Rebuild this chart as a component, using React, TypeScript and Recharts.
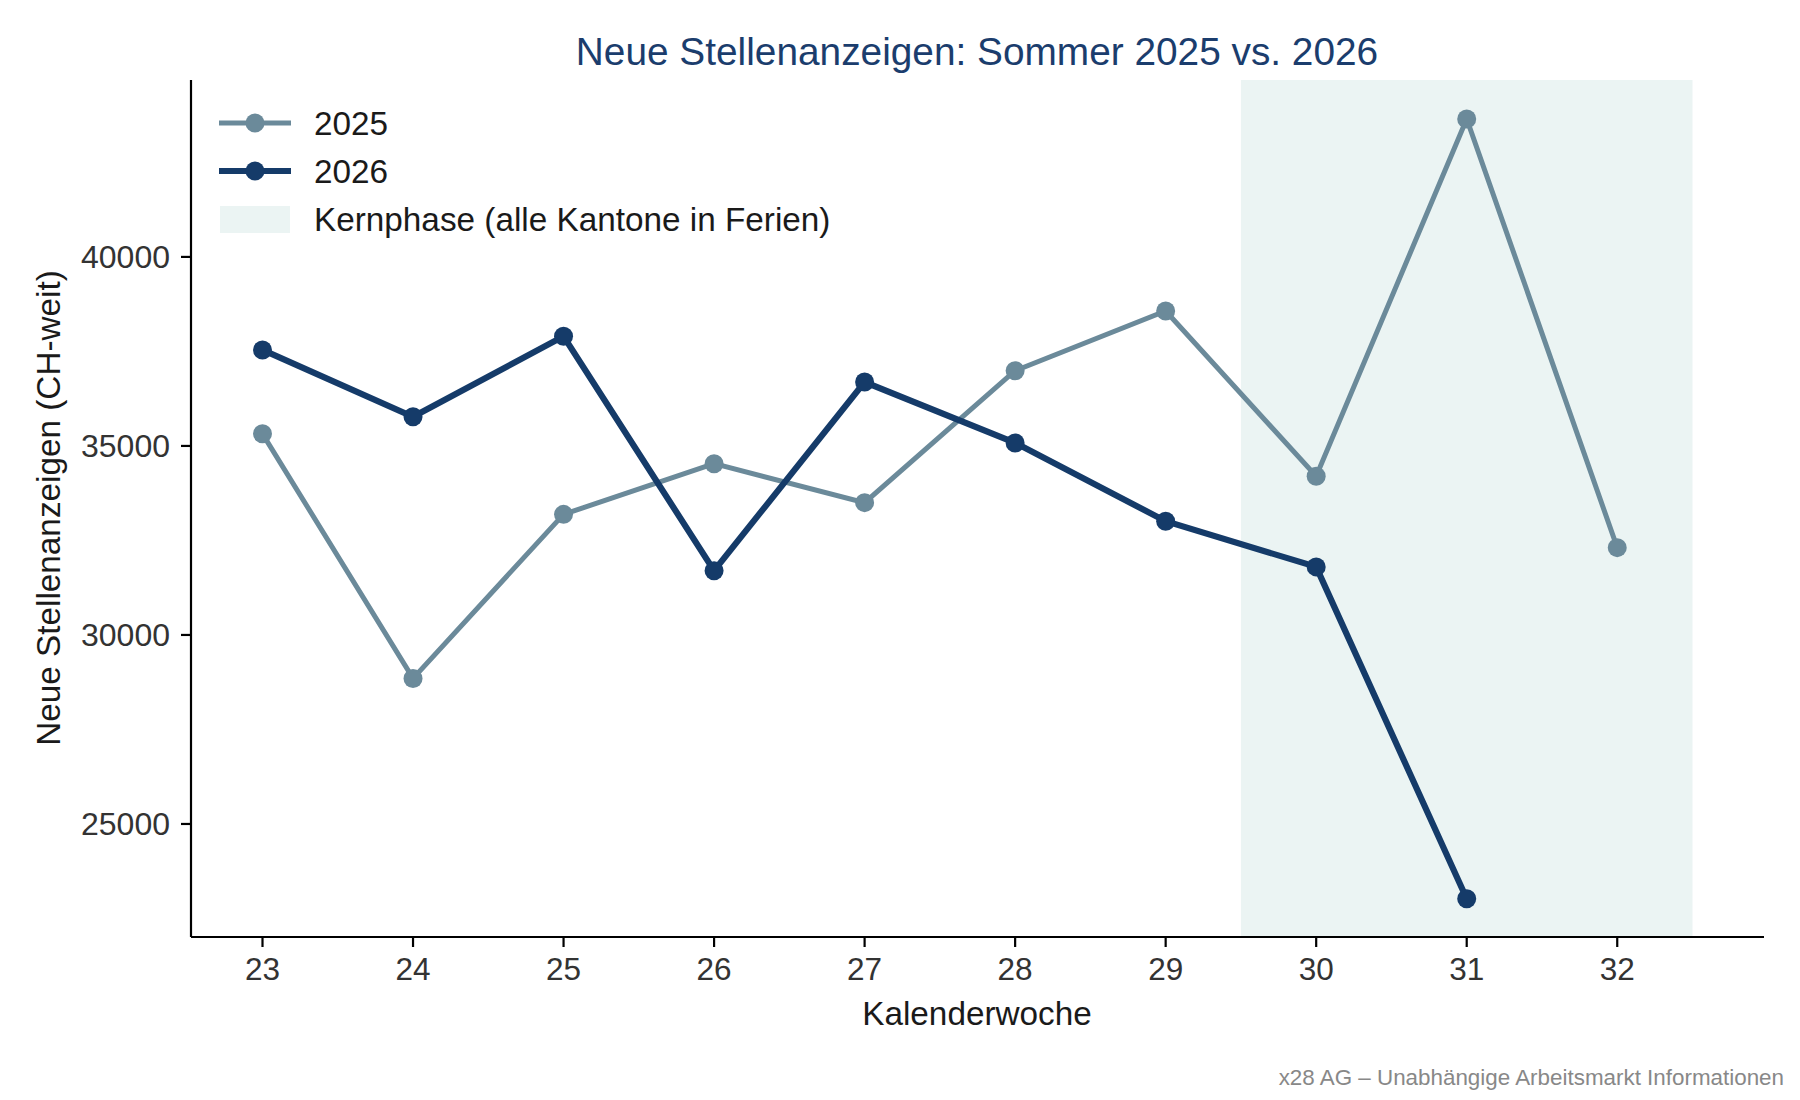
import React from 'react';
import { LineChart, Line, XAxis, YAxis, ReferenceArea } from 'recharts';

const weeks = [23, 24, 25, 26, 27, 28, 29, 30, 31, 32];
const jobs2025 = [35320, 28850, 33190, 34530, 33500, 36990, 38570, 34200, 43650, 32310];
const jobs2026 = [37540, 35770, 37900, 31700, 36690, 35080, 33010, 31800, 23020, null];
const yTicks = [25000, 30000, 35000, 40000];
const kernphase = [29.5, 32.5];

const COLOR_2025 = '#6b8a9a';
const COLOR_2026 = '#153b69';
const COLOR_SHADE = '#ebf4f3';
const FONT = '"Liberation Sans", Arial, Helvetica, sans-serif';

const data = weeks.map((week, i) => ({
  week,
  y2025: jobs2025[i],
  y2026: jobs2026[i],
}));

export default function App() {
  return (
    <div
      style={{
        position: 'absolute',
        left: 0,
        top: 0,
        width: 1800,
        height: 1100,
        background: '#fff',
        fontFamily: FONT,
      }}
    >
      <LineChart
        width={1800}
        height={1100}
        data={data}
        margin={{ top: 80, right: 36, bottom: 63, left: 41 }}
      >
        <ReferenceArea
          x1={kernphase[0]}
          x2={kernphase[1]}
          fill={COLOR_SHADE}
          fillOpacity={1}
          stroke="none"
        />
        <XAxis
          dataKey="week"
          type="number"
          domain={[22.525, 32.975]}
          ticks={weeks}
          allowDataOverflow
          height={100}
          axisLine={{ stroke: '#000', strokeWidth: 2.2 }}
          tickLine={{ stroke: '#000', strokeWidth: 2.2 }}
          tickSize={10}
          tickMargin={11}
          tick={{ fontSize: 31.5, fill: '#333', fontFamily: FONT }}
        />
        <YAxis
          type="number"
          domain={[22010, 44680]}
          ticks={yTicks}
          allowDataOverflow
          width={150}
          axisLine={{ stroke: '#000', strokeWidth: 2.2 }}
          tickLine={{ stroke: '#000', strokeWidth: 2.2 }}
          tickSize={10}
          tickMargin={11}
          tick={{ fontSize: 32, fill: '#333', fontFamily: FONT }}
        />
        <Line
          dataKey="y2025"
          stroke={COLOR_2025}
          strokeWidth={5}
          dot={{ r: 9.5, fill: COLOR_2025, stroke: 'none' }}
          activeDot={false}
          isAnimationActive={false}
        />
        <Line
          dataKey="y2026"
          stroke={COLOR_2026}
          strokeWidth={6.2}
          dot={{ r: 9.5, fill: COLOR_2026, stroke: 'none' }}
          activeDot={false}
          isAnimationActive={false}
        />
      </LineChart>

      {/* titles, legend and footer on top of the chart */}
      <svg
        width={1800}
        height={1100}
        style={{ position: 'absolute', left: 0, top: 0, pointerEvents: 'none' }}
        fontFamily={FONT}
      >
        <text x={977} y={65} textAnchor="middle" fontSize={38.8} fill="#1b3d6d">
          Neue Stellenanzeigen: Sommer 2025 vs. 2026
        </text>
        <text x={977} y={1025} textAnchor="middle" fontSize={33.3} fill="#1a1a1a">
          Kalenderwoche
        </text>
        <text
          x={60}
          y={508}
          textAnchor="middle"
          fontSize={33.3}
          fill="#1a1a1a"
          transform="rotate(-90, 60, 508)"
        >
          Neue Stellenanzeigen (CH-weit)
        </text>

        {/* legend */}
        <line x1={219} x2={291} y1={123} y2={123} stroke={COLOR_2025} strokeWidth={5} />
        <circle cx={255} cy={123} r={9.5} fill={COLOR_2025} />
        <text x={314} y={123} dy="0.35em" fontSize={33.3} fill="#1a1a1a">
          2025
        </text>
        <line x1={219} x2={291} y1={171} y2={171} stroke={COLOR_2026} strokeWidth={6.2} />
        <circle cx={255} cy={171} r={9.5} fill={COLOR_2026} />
        <text x={314} y={171} dy="0.35em" fontSize={33.3} fill="#1a1a1a">
          2026
        </text>
        <rect x={220} y={206} width={70} height={27} fill={COLOR_SHADE} />
        <text x={314} y={219} dy="0.35em" fontSize={33.3} fill="#1a1a1a">
          Kernphase (alle Kantone in Ferien)
        </text>

        <text x={1784} y={1085} textAnchor="end" fontSize={22.4} fill="#888">
          x28 AG – Unabhängige Arbeitsmarkt Informationen
        </text>
      </svg>
    </div>
  );
}
